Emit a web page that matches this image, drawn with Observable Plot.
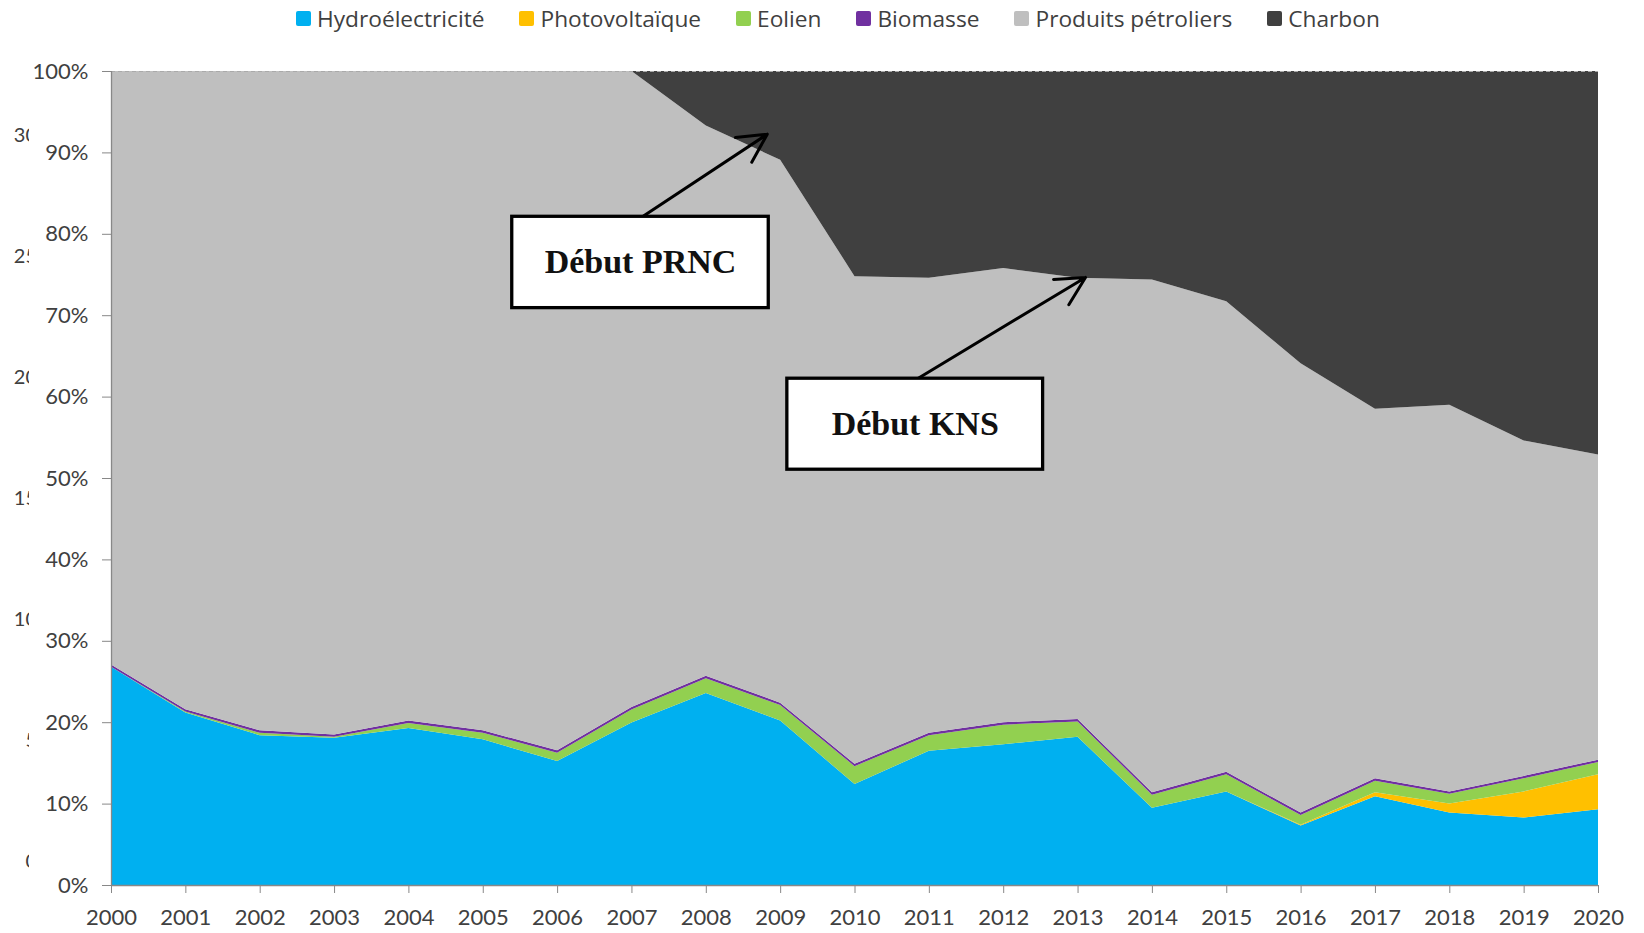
<!DOCTYPE html>
<html>
<head>
<meta charset="utf-8">
<script src="https://cdn.jsdelivr.net/npm/d3@7"></script>
<script src="https://cdn.jsdelivr.net/npm/@observablehq/plot@0.6"></script>
<style>
  html, body { margin: 0; padding: 0; background: #fff; }
  #wrap { position: relative; width: 1644px; height: 933px; overflow: hidden; }
  #legend { height: 50px; position: relative; font-family: "Open Sans", Lato, sans-serif; font-size: 22.7px; color: #404040; }
  #legend .items { position: absolute; left: 296px; top: 3px; display: flex; align-items: center; }
  #legend .item { display: flex; align-items: center; margin-right: 35px; }
  #legend .sw { width: 15px; height: 15px; border-radius: 2px; margin-right: 6px; }
  #ghost { position: absolute; left: 0; top: 0; width: 28.5px; height: 933px; overflow: hidden; font-family: Lato, sans-serif; font-size: 20px; color: #404040; }
  #ghost span { position: absolute; left: 0; width: 37px; text-align: right; line-height: 20px; }
</style>
</head>
<body>
<div id="wrap">
  <div id="legend"><div class="items"></div></div>
  <div id="chart"></div>
  <div id="ghost"></div>
</div>
<script>
// ---- Data (shares in %) ----
const years = [2000,2001,2002,2003,2004,2005,2006,2007,2008,2009,2010,2011,2012,2013,2014,2015,2016,2017,2018,2019,2020];
const series = ["Hydroélectricité","Photovoltaïque","Eolien","Biomasse","Produits pétroliers","Charbon"];
const colors = ["#00B0F0","#FFC000","#92D050","#7030A0","#BFBFBF","#404040"];

const hydro      = [26.8,21.2,18.4,18.1,19.3,17.9,15.2,19.9,23.6,20.2,12.4,16.5,17.3,18.2,9.5,11.5,7.3,10.9,8.9,8.3,9.3];
const photovolt  = [0,0,0,0,0,0,0,0,0,0,0,0,0,0,0,0,0.1,0.5,1.1,3.2,4.3];
const eolien     = [0.0,0.1,0.3,0.1,0.6,0.8,1.0,1.6,1.8,1.9,2.2,1.9,2.4,1.9,1.6,2.1,1.2,1.4,1.2,1.6,1.5];
const biomasse   = [0.3,0.3,0.3,0.3,0.3,0.3,0.3,0.3,0.3,0.3,0.3,0.3,0.3,0.3,0.3,0.3,0.3,0.3,0.3,0.3,0.3];
const petrole    = [72.9,78.4,81.0,81.5,79.8,81.0,83.2,77.9,67.6,66.7,59.9,55.9,55.8,54.2,63.0,57.8,55.2,45.4,47.5,41.2,37.5];
const charbon    = [0,0,0,0,0,0,0,0,6.7,10.9,25.2,25.4,24.2,25.4,25.6,28.3,35.9,41.5,41.0,45.4,47.1];

const yTicks = [0,0.1,0.2,0.3,0.4,0.5,0.6,0.7,0.8,0.9,1];
const ghostTicks = [0,5,10,15,20,25,30];

// annotations: label, box (data units), arrow tail/head (data units)
const annotLabels = ["Début PRNC","Début KNS"];
const annotBoxX1 = [2005.39, 2009.09];
const annotBoxX2 = [2008.84, 2012.53];
const annotBoxY1 = [0.7093, 0.5108];
const annotBoxY2 = [0.8215, 0.6226];
const annotArrowX1 = [2007.14, 2010.84];
const annotArrowY1 = [0.8215, 0.6226];
const annotArrowX2 = [2008.82, 2013.10];
const annotArrowY2 = [0.923, 0.747];

// ---- Build table ----
const valuesBySeries = [hydro, photovolt, eolien, biomasse, petrole, charbon];
const data = [];
series.forEach((s, si) => {
  years.forEach((yr, i) => data.push({year: yr, series: s, value: valuesBySeries[si][i]}));
});
const annots = annotLabels.map((label, i) => ({
  label,
  bx1: annotBoxX1[i], bx2: annotBoxX2[i], by1: annotBoxY1[i], by2: annotBoxY2[i],
  ax1: annotArrowX1[i], ay1: annotArrowY1[i], ax2: annotArrowX2[i], ay2: annotArrowY2[i],
  cx: (annotBoxX1[i] + annotBoxX2[i]) / 2, cy: (annotBoxY1[i] + annotBoxY2[i]) / 2
}));

// ---- Legend ----
const items = document.querySelector("#legend .items");
series.forEach((s, i) => {
  const it = document.createElement("div");
  it.className = "item";
  it.innerHTML = `<div class="sw" style="background:${colors[i]}"></div><span>${s}</span>`;
  items.appendChild(it);
});

// ---- Chart ----
const chart = Plot.plot({
  width: 1644,
  height: 883,
  marginTop: 21,
  marginBottom: 48,
  marginLeft: 111,
  marginRight: 46,
  style: {fontFamily: "Lato, 'Open Sans', sans-serif", fontSize: "22px", color: "#404040", background: "#fff"},
  x: {domain: [2000, 2020], label: null},
  y: {domain: [0, 1], label: null},
  color: {domain: series, range: colors},
  marks: [
    Plot.areaY(data, {x: "year", y: "value", z: "series", fill: "series", offset: "normalize", order: series, curve: "linear"}),
    Plot.ruleY([1], {stroke: "#aaa", strokeDasharray: "4,3", strokeWidth: 1}),
    Plot.ruleX([2000], {stroke: "#888", strokeWidth: 1.3}),
    Plot.ruleY([0], {stroke: "#888", strokeWidth: 1.3}),
    Plot.axisY({ticks: yTicks, tickFormat: d3.format(".0%"), tickSize: 9, tickPadding: 14, stroke: "#888", fill: "#404040", fontSize: 22}),
    Plot.axisX({ticks: years, tickFormat: d3.format("d"), tickSize: 8, tickPadding: 16, stroke: "#888", fill: "#404040", fontSize: 22}),
    Plot.arrow(annots, {x1: "ax1", y1: "ay1", x2: "ax2", y2: "ay2", stroke: "#000", strokeWidth: 3, headLength: 16, headAngle: 55, bend: 0}),
    Plot.rect(annots, {x1: "bx1", x2: "bx2", y1: "by1", y2: "by2", fill: "#fff", stroke: "#000", strokeWidth: 3.3}),
    Plot.text(annots, {x: "cx", y: "cy", text: "label", fontFamily: "'Liberation Serif', 'DejaVu Serif', serif", fontWeight: "bold", fontSize: 34, fill: "#111"})
  ]
});
document.getElementById("chart").appendChild(chart);

// ---- Partially hidden secondary labels on the far left ----
const gy = d3.scaleLinear().domain([0, 30]).range([860, 134]);
const ghost = document.getElementById("ghost");
ghostTicks.forEach(v => {
  const sp = document.createElement("span");
  sp.textContent = v;
  sp.style.top = (gy(v) - 10) + "px";
  ghost.appendChild(sp);
});
</script>
</body>
</html>
